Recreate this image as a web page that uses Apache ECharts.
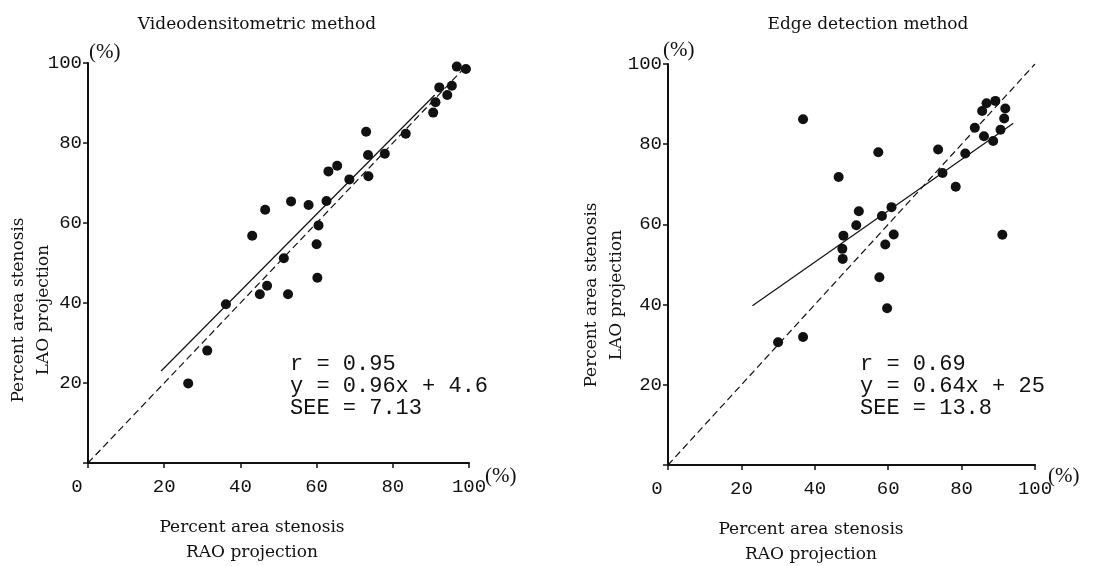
<!DOCTYPE html>
<html><head><meta charset="utf-8">
<script src="https://cdn.jsdelivr.net/npm/echarts@6/dist/echarts.min.js"></script>
<style>html,body{margin:0;padding:0;background:#fff}#c{width:1109px;height:566px}</style>
</head><body><div id="c"></div>
<script>
// Videodensitometric method: [RAO %, LAO %]
const videoPoints = [
  [96.8,99.1],[99.2,98.5],[92.2,93.9],[95.5,94.3],[94.3,92.0],[91.2,90.2],[90.6,87.6],
  [83.4,82.3],[73.0,82.8],[73.5,77.0],[77.9,77.3],[73.6,71.7],[68.6,70.9],[63.1,72.9],
  [65.4,74.3],[62.6,65.5],[53.3,65.4],[57.9,64.5],[46.5,63.3],[43.1,56.8],[60.5,59.4],
  [60.0,54.7],[51.4,51.2],[60.2,46.3],[47.0,44.3],[45.1,42.2],[52.5,42.2],[36.2,39.7],
  [31.3,28.1],[26.3,19.9]
];
// Edge detection method: [RAO %, LAO %]
const edgePoints = [
  [36.8,86.2],[57.3,78.0],[46.5,71.8],[73.6,78.7],[74.8,72.8],[81.0,77.7],[78.4,69.4],
  [83.6,84.1],[85.6,88.3],[86.8,90.2],[89.2,90.8],[91.9,88.9],[91.6,86.4],[90.6,83.6],
  [86.1,82.0],[88.6,80.8],[91.1,57.4],[52.0,63.3],[51.3,59.8],[58.3,62.1],[60.9,64.3],
  [61.5,57.5],[59.2,55.0],[47.8,57.2],[47.5,53.9],[47.6,51.4],[57.6,46.8],[59.7,39.1],
  [36.8,31.9],[30.0,30.6]
];
// regression lines (end points)
const videoFit = [[19.2,23.0],[91.0,92.0]];
const edgeFit = [[23.0,39.7],[94.1,85.2]];
// identity lines
const identityLeft = [[0,0],[99.5,99.5]];
const identityRight = [[0,0],[100,100]];
const titles = ['Videodensitometric method','Edge detection method'];
const statsLeft = ['r = 0.95','y = 0.96x + 4.6','SEE = 7.13'];
const statsRight = ['r = 0.69','y = 0.64x + 25','SEE = 13.8'];
const xName = ['Percent area stenosis','RAO projection'];
const yName = ['Percent area stenosis','LAO projection'];

const mono = 'Liberation Mono';
const serif = 'DejaVu Serif';
const ink = '#111111';

function xAxis(gi){
  return {
    type:'value', gridIndex:gi, min:0, max:100, interval:20,
    axisLine:{show:true, lineStyle:{color:ink, width:2}},
    axisTick:{show:true, length:5, lineStyle:{color:ink, width:1.5}},
    splitLine:{show:false},
    axisLabel:{color:ink, fontFamily:mono, fontSize:19, margin:14,
      formatter:v => v===0 ? '{z|0}' : String(v),
      rich:{z:{fontFamily:mono, fontSize:19, color:ink, padding:[0,22,0,0]}}}
  };
}
function yAxis(gi){
  return {
    type:'value', gridIndex:gi, min:0, max:100, interval:20,
    axisLine:{show:true, lineStyle:{color:ink, width:2}},
    axisTick:{show:true, length:5, lineStyle:{color:ink, width:1.5}},
    splitLine:{show:false},
    axisLabel:{color:ink, fontFamily:mono, fontSize:19, margin:6,
      formatter:v => v===0 ? '' : String(v)}
  };
}
function scatter(gi, data){
  return {type:'scatter', xAxisIndex:gi, yAxisIndex:gi, data:data, symbolSize:10,
    itemStyle:{color:ink, opacity:1}, silent:true, z:3};
}
function line(gi, data, dashed){
  return {type:'line', xAxisIndex:gi, yAxisIndex:gi, data:data, symbol:'none',
    lineStyle:{color:ink, width:1.2, type: dashed ? [7,4] : 'solid'}, silent:true, z:2};
}
function textBlock(x, y, lines){
  return {type:'text', left:x, top:y, silent:true,
    style:{text:lines.join('\n'), fontFamily:mono, fontSize:22, lineHeight:22, fill:ink}};
}
function pct(x, y){
  return {type:'text', left:x, top:y, silent:true,
    style:{text:'(%)', fontFamily:'Liberation Serif', fontSize:21, fill:ink}};
}
function nameText(cx, cy, lines, rot){
  return {type:'text', x:cx, y:cy, rotation:rot, silent:true,
    style:{text:lines.join('\n'), fontFamily:serif, fontSize:17, lineHeight:25.5,
      fill:ink, align:'center', verticalAlign:'middle'}};
}

const chart = echarts.init(document.getElementById('c'), null, {renderer:'canvas'});
chart.setOption({
  backgroundColor:'#fff',
  animation:false,
  title:[
    {text:titles[0], left:252, top:11, textAlign:'center',
     textStyle:{fontFamily:serif, fontSize:17, fontWeight:'normal', color:ink}},
    {text:titles[1], left:863, top:11, textAlign:'center',
     textStyle:{fontFamily:serif, fontSize:17, fontWeight:'normal', color:ink}}
  ],
  grid:[
    {left:88, top:63, width:381, height:400, outerBoundsMode:'none', containLabel:false},
    {left:668, top:64, width:367, height:401, outerBoundsMode:'none', containLabel:false}
  ],
  xAxis:[xAxis(0), xAxis(1)],
  yAxis:[yAxis(0), yAxis(1)],
  series:[
    line(0, identityLeft, true), line(0, videoFit, false), scatter(0, videoPoints),
    line(1, identityRight, true), line(1, edgeFit, false), scatter(1, edgePoints)
  ],
  graphic:[
    textBlock(290, 353, statsLeft),
    textBlock(860, 353, statsRight),
    pct(89, 42), pct(663, 40), pct(485, 466), pct(1048, 466),
    nameText(252, 540, xName, 0),
    nameText(811, 542, xName, 0),
    nameText(31, 310, yName, Math.PI/2),
    nameText(604, 295, yName, Math.PI/2)
  ]
});
</script></body></html>
